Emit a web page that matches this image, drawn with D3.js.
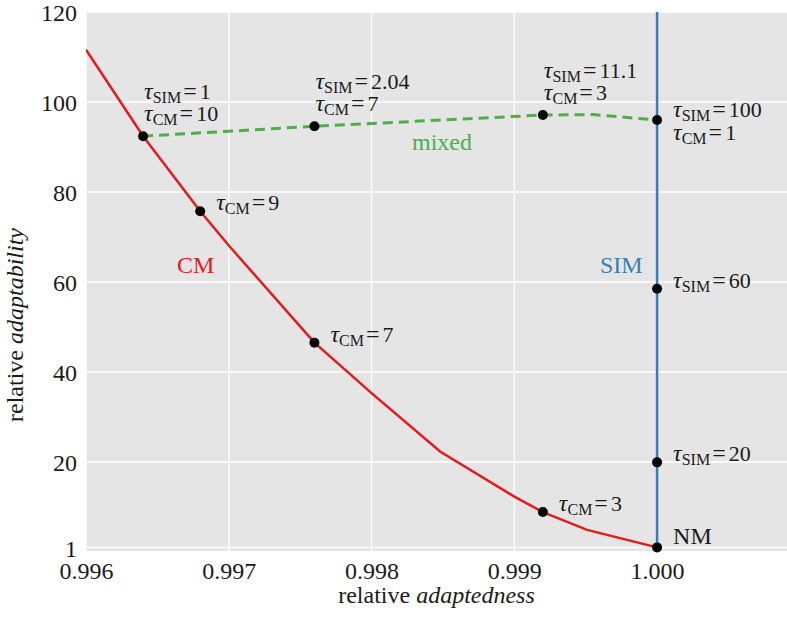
<!DOCTYPE html>
<html>
<head>
<meta charset="utf-8">
<script src="https://cdn.jsdelivr.net/npm/d3@7"></script>
<style>
  body { margin: 0; background: #fff; }
  svg { display: block; }
  text { font-family: "Liberation Serif", "Times New Roman", serif; fill: #1a1a1a; }
</style>
</head>
<body>
<svg width="787" height="620"></svg>
<script>
// curves
const cmX = [0.996, 0.9964, 0.9968, 0.997, 0.9976, 0.998, 0.99848, 0.999, 0.9992, 0.99951, 1.0];
const cmY = [111.6, 92.4, 75.7, 68.1, 46.5, 35.3, 22.3, 12.3, 8.85, 4.9, 1];

const mixX = [0.9964, 0.9976, 0.9992, 0.99955, 1.0];
const mixY = [92.4, 94.6, 97.1, 97.2, 96.0];

const simX = [1.0, 1.0];
const simY = [1, 125];

// marked points and their tau labels
const dotX = [0.9964, 0.9968, 0.9976, 0.9992, 1.0, 0.9976, 0.9992, 1.0, 1.0, 1.0];
const dotY = [92.4, 75.7, 46.5, 8.85, 1, 94.6, 97.1, 96.0, 58.5, 19.9];
const dotTauSIM = ["1", null, null, null, null, "2.04", "11.1", "100", "60", "20"];
const dotTauCM = ["10", "9", "7", "3", null, "7", "3", "1", null, null];

const xTicks = [0.996, 0.997, 0.998, 0.999, 1.0];
const yTicks = [1, 20, 40, 60, 80, 100, 120];

const red = "#e41a1c", blue = "#377eb8", green = "#4daf4a";

const svg = d3.select("svg");
const pLeft = 86, pRight = 787, pTop = 12, pBottom = 551;

const x = d3.scaleLinear().domain([0.996, 1.00091]).range([pLeft, pRight]);
const y = d3.scaleLinear().domain([0.2, 120]).range([pBottom, pTop]);

svg.append("rect")
  .attr("x", pLeft).attr("y", pTop)
  .attr("width", pRight - pLeft).attr("height", pBottom - pTop)
  .attr("fill", "#e5e5e5");

svg.append("clipPath").attr("id", "plot")
  .append("rect")
  .attr("x", pLeft).attr("y", pTop)
  .attr("width", pRight - pLeft).attr("height", pBottom - pTop);

// grid
const grid = svg.append("g").attr("stroke", "#fff").attr("stroke-width", 1.5);
grid.selectAll("line.gx").data(xTicks).join("line")
  .attr("class", "gx")
  .attr("x1", d => x(d)).attr("x2", d => x(d))
  .attr("y1", pTop).attr("y2", pBottom);
grid.selectAll("line.gy").data(yTicks).join("line")
  .attr("class", "gy")
  .attr("x1", pLeft).attr("x2", pRight)
  .attr("y1", d => y(d)).attr("y2", d => y(d));

// axes
const xAxis = svg.append("g")
  .attr("transform", `translate(0,${pBottom})`)
  .call(d3.axisBottom(x).tickValues(xTicks).tickFormat(d3.format(".3f")).tickSize(0).tickPadding(11));
const yAxis = svg.append("g")
  .attr("transform", `translate(${pLeft},0)`)
  .call(d3.axisLeft(y).tickValues(yTicks).tickFormat(d3.format("d")).tickSize(0).tickPadding(9));
[xAxis, yAxis].forEach(a => {
  a.select(".domain").remove();
  a.selectAll("text")
    .attr("font-size", 24)
    .attr("font-family", "'Liberation Serif', 'Times New Roman', serif")
    .attr("fill", "#1a1a1a");
});
yAxis.selectAll("text").attr("dy", "0.37em");

// axis titles
const xt = svg.append("text").attr("x", (pLeft + pRight) / 2).attr("y", 603)
  .attr("text-anchor", "middle").attr("font-size", 24);
xt.append("tspan").text("relative ");
xt.append("tspan").attr("font-style", "italic").text("adaptedness");

const yt = svg.append("text").attr("transform", "translate(23,325) rotate(-90)")
  .attr("text-anchor", "middle").attr("font-size", 24);
yt.append("tspan").text("relative ");
yt.append("tspan").attr("font-style", "italic").text("adaptability");

// curves
const line = d3.line().x(d => x(d[0])).y(d => y(d[1]));
const curves = svg.append("g").attr("clip-path", "url(#plot)").attr("fill", "none");

curves.append("path")
  .attr("d", line(d3.zip(simX, simY)))
  .attr("stroke", blue).attr("stroke-width", 2.5);

curves.append("path")
  .attr("d", line(d3.zip(cmX, cmY)))
  .attr("stroke", red).attr("stroke-width", 2.5);

curves.append("path")
  .attr("d", line(d3.zip(mixX, mixY)))
  .attr("stroke", green).attr("stroke-width", 3)
  .attr("stroke-dasharray", "10,6");

// dots
svg.append("g").selectAll("circle").data(d3.range(dotX.length)).join("circle")
  .attr("cx", i => x(dotX[i])).attr("cy", i => y(dotY[i]))
  .attr("r", 5).attr("fill", "#000");

// tau labels
function tau(px, py, sub, val) {
  const t = svg.append("text").attr("x", px).attr("y", py).attr("font-size", 22);
  t.append("tspan").attr("font-style", "italic").attr("font-size", 24).text("\u03c4");
  t.append("tspan").attr("font-size", 16).attr("dy", 4).text(sub);
  t.append("tspan").attr("dy", -4).attr("dx", 2).attr("font-size", 24).text("=");
  t.append("tspan").attr("dx", 3).text(val);
}

dotX.forEach((dx, i) => {
  const px = x(dx), py = y(dotY[i]);
  const s = dotTauSIM[i], c = dotTauCM[i];
  if (s && c) {
    if (dx >= 1.0) {
      tau(px + 16, py - 3, "SIM", s);
      tau(px + 16, py + 20, "CM", c);
    } else {
      tau(px + 1, py - 37.5, "SIM", s);
      tau(px + 1, py - 15, "CM", c);
    }
  } else if (s) {
    tau(px + 16, py - 1, "SIM", s);
  } else if (c) {
    tau(px + 16, py - 1, "CM", c);
  }
});

// point / series names
svg.append("text").attr("x", x(1.0) + 16).attr("y", y(1) - 3)
  .attr("font-size", 24).text("NM");
svg.append("text").attr("x", 177).attr("y", 273).attr("font-size", 24)
  .style("fill", red).text("CM");
svg.append("text").attr("x", 600).attr("y", 273).attr("font-size", 24)
  .style("fill", blue).text("SIM");
svg.append("text").attr("x", 412).attr("y", 150).attr("font-size", 24)
  .style("fill", green).text("mixed");
</script>
</body>
</html>
